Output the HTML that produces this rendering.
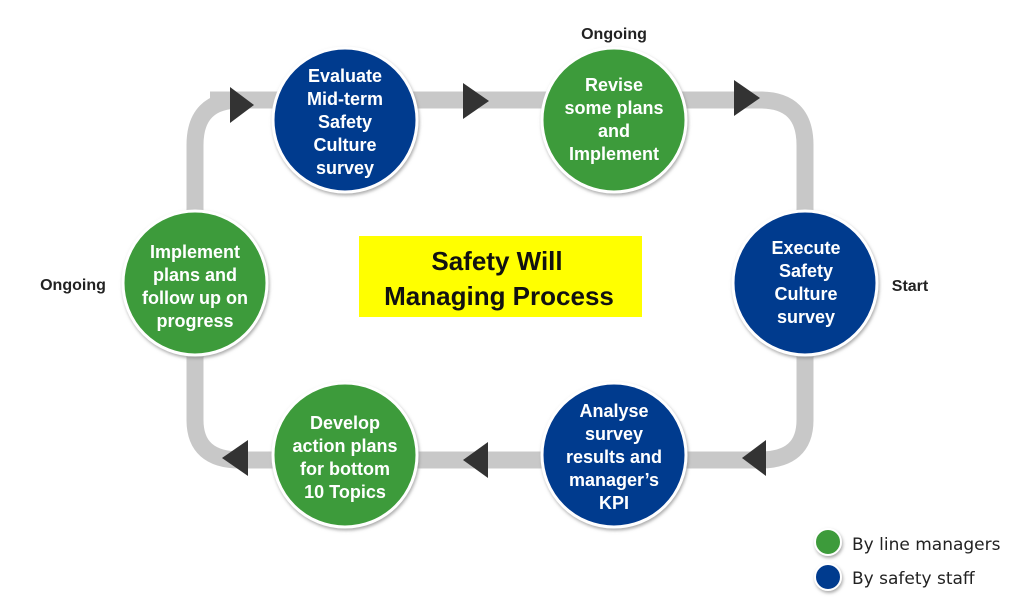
<!DOCTYPE html>
<html><head><style>
body{margin:0;width:1024px;height:607px;background:#fff;overflow:hidden;font-family:"Liberation Sans",Arial,sans-serif;}
</style></head><body>
<svg width="1024" height="607" viewBox="0 0 1024 607">
<defs><filter id="sh" x="-20%" y="-20%" width="140%" height="140%"><feDropShadow dx="1" dy="2" stdDeviation="1.5" flood-color="#888" flood-opacity="0.7"/></filter></defs>
<path d="M210 100 H760 Q805 100 805 145 V420 Q805 460 760 460 H240 Q195 460 195 420 V145 Q195 100 240 100" fill="none" stroke="#c8c8c8" stroke-width="17"/>
<g fill="#333">
<polygon points="230,87 230,123 254,105"/>
<polygon points="463,83 463,119 489,101"/>
<polygon points="734,80 734,116 760,98"/>
<polygon points="766,440 766,476 742,458"/>
<polygon points="488,442 488,478 463,460"/>
<polygon points="248,440 248,476 222,458"/>
</g>
<g stroke="#fff" stroke-width="3" filter="url(#sh)">
<circle cx="345" cy="120" r="72" fill="#063a8e"/>
<circle cx="614" cy="120" r="72" fill="#3e9b3a"/>
<circle cx="805" cy="283" r="72" fill="#063a8e"/>
<circle cx="614" cy="455" r="72" fill="#063a8e"/>
<circle cx="345" cy="455" r="72" fill="#3e9b3a"/>
<circle cx="195" cy="283" r="72" fill="#3e9b3a"/>
<circle cx="828" cy="542" r="13" fill="#3e9b3a" stroke-width="2"/>
<circle cx="828" cy="577" r="13" fill="#063a8e" stroke-width="2"/>
</g>
<g fill="#fff" font-weight="bold" font-size="18" text-anchor="middle">
<text x="345" y="82">Evaluate</text><text x="345" y="105">Mid-term</text><text x="345" y="128">Safety</text><text x="345" y="151">Culture</text><text x="345" y="174">survey</text>
<text x="614" y="91">Revise</text><text x="614" y="114">some plans</text><text x="614" y="137">and</text><text x="614" y="160">Implement</text>
<text x="806" y="254">Execute</text><text x="806" y="277">Safety</text><text x="806" y="300">Culture</text><text x="806" y="323">survey</text>
<text x="614" y="417">Analyse</text><text x="614" y="440">survey</text><text x="614" y="463">results and</text><text x="614" y="486">manager’s</text><text x="614" y="509">KPI</text>
<text x="345" y="429">Develop</text><text x="345" y="452">action plans</text><text x="345" y="475">for bottom</text><text x="345" y="498">10 Topics</text>
<text x="195" y="258">Implement</text><text x="195" y="281">plans and</text><text x="195" y="304">follow up on</text><text x="195" y="327">progress</text>
</g>
<g fill="#222" font-weight="bold" font-size="16" text-anchor="middle">
<text x="614" y="39">Ongoing</text><text x="73" y="290">Ongoing</text><text x="910" y="291">Start</text>
</g>
<rect x="359" y="236" width="283" height="81" fill="#ffff00"/>
<g font-weight="bold" font-size="26" text-anchor="middle" fill="#111">
<text x="497" y="270">Safety Will</text><text x="499" y="305">Managing Process</text>
</g>
<g font-family="DejaVu Sans,sans-serif" font-size="17" fill="#222">
<text x="852" y="550">By line managers</text><text x="852" y="584">By safety staff</text>
</g>
</svg>
</body></html>
